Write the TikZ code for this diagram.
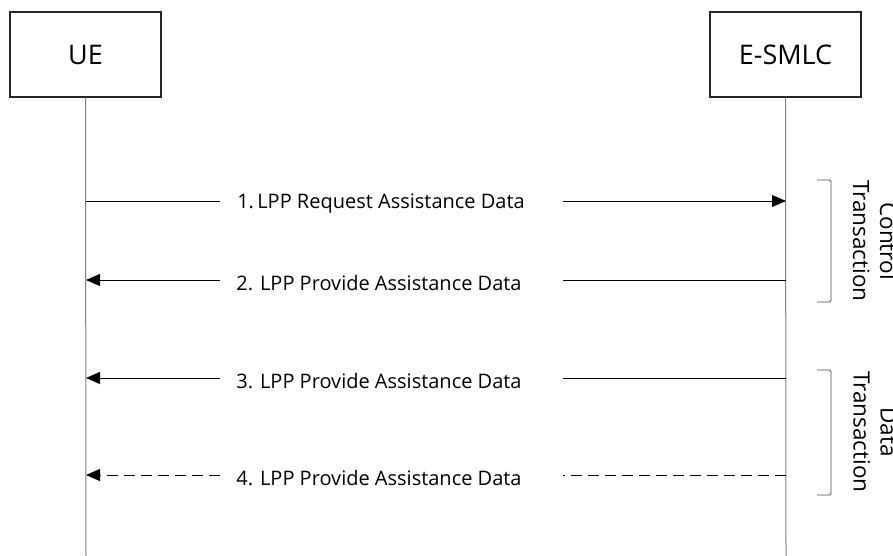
\documentclass[tikz,border=0pt]{standalone}
\usepackage{fontspec}
\setmainfont{Open Sans}
\usetikzlibrary{arrows.meta}
\begin{document}
\begin{tikzpicture}[x=1pt,y=-1pt,
  entity/.style={draw=black!85,line width=1.1pt,minimum width=151pt,minimum height=85pt,font=\fontsize{27}{30}\selectfont,inner sep=0pt},
  life/.style={draw=black!50,line width=1pt},
  msg/.style={line width=1pt,-{Triangle[length=14pt,width=12pt]}},
  seg/.style={line width=1pt},
  gap/.style={minimum width=343pt,minimum height=10pt,inner sep=0pt},
  lbl/.style={font=\fontsize{20}{24}\selectfont,inner sep=0pt},
  brk/.style={draw=black!70,line width=0.8pt,rounded corners=1.5pt},
  side/.style={rotate=-90,align=center,font=\fontsize{22.5}{27}\selectfont}]
\useasboundingbox (0,0) rectangle (893,556);
\node[entity] (ue) at (85.5,54.5) {UE};
\node[entity] (sm) at (785.5,54.5) {E-SMLC};
\coordinate (ueb) at (86,556);
\coordinate (smb) at (786,556);
\draw[life] (ue.south) -- (ueb);
\draw[life] (sm.south) -- (smb);
\coordinate (a1) at (86,201); \coordinate (b1) at (786,201);
\coordinate (a2) at (86,280); \coordinate (b2) at (786,280);
\coordinate (a3) at (86,378); \coordinate (b3) at (786,378);
\coordinate (a4) at (86,475); \coordinate (b4) at (786,475);
\node[gap] (g1) at (391.5,201) {};
\node[gap] (g2) at (391.5,280) {};
\node[gap] (g3) at (391.5,378) {};
\node[gap] (g4) at (391.5,475) {};
\draw[seg] (a1) -- (g1.west);
\draw[msg] (g1.east) -- (b1);
\draw[msg] (g2.west) -- (a2);
\draw[seg] (b2) -- (g2.east);
\draw[msg] (g3.west) -- (a3);
\draw[seg] (b3) -- (g3.east);
\draw[msg,dash pattern=on 11pt off 6pt] (g4.west) -- (a4);
\draw[seg,dash pattern=on 11pt off 6pt] (b4) -- (g4.east);
\node[lbl] (l1) at (381,203.5) {1.\,LPP Request Assistance Data};
\node[lbl] (l2) at (379,283) {2. LPP Provide Assistance Data};
\node[lbl] (l3) at (379,381) {3. LPP Provide Assistance Data};
\node[lbl] (l4) at (379,478) {4. LPP Provide Assistance Data};
\coordinate (c1) at (817,180); \coordinate (c2) at (817,302);
\coordinate (d1) at (817,370); \coordinate (d2) at (817,495);
\draw[brk] (c1) -- ++(14,0) -- ++(0,122) -- (c2);
\draw[brk] (d1) -- ++(14,0) -- ++(0,125) -- (d2);
\node[side] (t1) at (875,241) {Control\\Transaction};
\node[side] (t2) at (875,432) {Data\\Transaction};
\end{tikzpicture}
\end{document}
